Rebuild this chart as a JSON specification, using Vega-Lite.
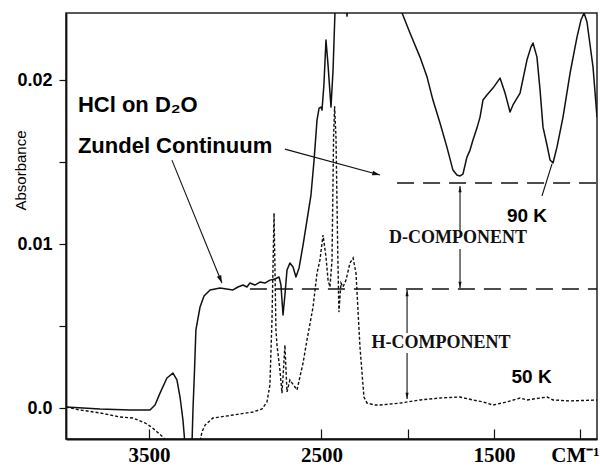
{
  "$schema": "https://vega.github.io/schema/vega-lite/v6.json",
  "width": 531,
  "height": 426,
  "autosize": {"type": "none"},
  "padding": {"left": 66, "top": 13, "right": 3, "bottom": 28},
  "background": "white",
  "config": {
    "view": {"stroke": "#222", "strokeWidth": 1.5},
    "axis": {"grid": false, "domainColor": "#111", "domainWidth": 1.8, "tickColor": "#111", "tickWidth": 1.2, "labelColor": "#000", "titleColor": "#000"}
  },
  "datasets": {
    "spectra": [
      {"s": "90 K", "wn": 3981, "abs": 0.00006}, {"s": "90 K", "wn": 3784, "abs": -0.00006}, {"s": "90 K", "wn": 3610, "abs": -0.00012}, {"s": "90 K", "wn": 3494, "abs": -0.00012},
      {"s": "90 K", "wn": 3465, "abs": 0.00018}, {"s": "90 K", "wn": 3436, "abs": 0.00091}, {"s": "90 K", "wn": 3396, "abs": 0.00183}, {"s": "90 K", "wn": 3361, "abs": 0.00213},
      {"s": "90 K", "wn": 3338, "abs": 0.00171}, {"s": "90 K", "wn": 3320, "abs": 0.00067}, {"s": "90 K", "wn": 3303, "abs": -0.00073}, {"s": "90 K", "wn": 3291, "abs": -0.00226},
      {"s": "90 K", "wn": 3286, "abs": -0.0038}, {"s": "90 K", "wn": 3257, "abs": -0.0038}, {"s": "90 K", "wn": 3251, "abs": -0.00226}, {"s": "90 K", "wn": 3245, "abs": -0.00012},
      {"s": "90 K", "wn": 3236, "abs": 0.00232}, {"s": "90 K", "wn": 3228, "abs": 0.00476}, {"s": "90 K", "wn": 3204, "abs": 0.00616}, {"s": "90 K", "wn": 3181, "abs": 0.00683},
      {"s": "90 K", "wn": 3146, "abs": 0.0072}, {"s": "90 K", "wn": 3088, "abs": 0.00732}, {"s": "90 K", "wn": 3013, "abs": 0.0072}, {"s": "90 K", "wn": 2984, "abs": 0.00738},
      {"s": "90 K", "wn": 2955, "abs": 0.0075}, {"s": "90 K", "wn": 2932, "abs": 0.00738}, {"s": "90 K", "wn": 2915, "abs": 0.00762}, {"s": "90 K", "wn": 2886, "abs": 0.0075},
      {"s": "90 K", "wn": 2857, "abs": 0.00768}, {"s": "90 K", "wn": 2828, "abs": 0.00762}, {"s": "90 K", "wn": 2799, "abs": 0.0078}, {"s": "90 K", "wn": 2770, "abs": 0.00787},
      {"s": "90 K", "wn": 2746, "abs": 0.00799}, {"s": "90 K", "wn": 2735, "abs": 0.0075}, {"s": "90 K", "wn": 2723, "abs": 0.00567}, {"s": "90 K", "wn": 2712, "abs": 0.00689},
      {"s": "90 K", "wn": 2700, "abs": 0.00841}, {"s": "90 K", "wn": 2683, "abs": 0.00884}, {"s": "90 K", "wn": 2665, "abs": 0.0086}, {"s": "90 K", "wn": 2648, "abs": 0.00799},
      {"s": "90 K", "wn": 2630, "abs": 0.00854}, {"s": "90 K", "wn": 2607, "abs": 0.00994}, {"s": "90 K", "wn": 2584, "abs": 0.01146}, {"s": "90 K", "wn": 2561, "abs": 0.01299},
      {"s": "90 K", "wn": 2543, "abs": 0.01512}, {"s": "90 K", "wn": 2526, "abs": 0.01756}, {"s": "90 K", "wn": 2514, "abs": 0.01829}, {"s": "90 K", "wn": 2503, "abs": 0.01835},
      {"s": "90 K", "wn": 2497, "abs": 0.01817}, {"s": "90 K", "wn": 2486, "abs": 0.0197}, {"s": "90 K", "wn": 2474, "abs": 0.02244}, {"s": "90 K", "wn": 2462, "abs": 0.02091},
      {"s": "90 K", "wn": 2445, "abs": 0.01835}, {"s": "90 K", "wn": 2433, "abs": 0.02061}, {"s": "90 K", "wn": 2422, "abs": 0.02409}, {"s": "90 K", "wn": 2410, "abs": 0.0267},
      {"s": "90 K", "wn": 2364, "abs": 0.02549}, {"s": "90 K", "wn": 2352, "abs": 0.0239}, {"s": "90 K", "wn": 2341, "abs": 0.02549}, {"s": "90 K", "wn": 2219, "abs": 0.02854},
      {"s": "90 K", "wn": 2074, "abs": 0.02579}, {"s": "90 K", "wn": 2033, "abs": 0.02409}, {"s": "90 K", "wn": 1987, "abs": 0.02287}, {"s": "90 K", "wn": 1929, "abs": 0.0214},
      {"s": "90 K", "wn": 1888, "abs": 0.02018}, {"s": "90 K", "wn": 1854, "abs": 0.01878}, {"s": "90 K", "wn": 1813, "abs": 0.01738}, {"s": "90 K", "wn": 1773, "abs": 0.01591},
      {"s": "90 K", "wn": 1738, "abs": 0.01451}, {"s": "90 K", "wn": 1715, "abs": 0.01421}, {"s": "90 K", "wn": 1697, "abs": 0.01415}, {"s": "90 K", "wn": 1680, "abs": 0.01427},
      {"s": "90 K", "wn": 1657, "abs": 0.0153}, {"s": "90 K", "wn": 1639, "abs": 0.01573}, {"s": "90 K", "wn": 1622, "abs": 0.01634}, {"s": "90 K", "wn": 1599, "abs": 0.01707},
      {"s": "90 K", "wn": 1581, "abs": 0.01774}, {"s": "90 K", "wn": 1564, "abs": 0.01878}, {"s": "90 K", "wn": 1541, "abs": 0.01909}, {"s": "90 K", "wn": 1506, "abs": 0.01951},
      {"s": "90 K", "wn": 1465, "abs": 0.02012}, {"s": "90 K", "wn": 1436, "abs": 0.01921}, {"s": "90 K", "wn": 1407, "abs": 0.01805}, {"s": "90 K", "wn": 1390, "abs": 0.01848},
      {"s": "90 K", "wn": 1349, "abs": 0.01921}, {"s": "90 K", "wn": 1309, "abs": 0.02122}, {"s": "90 K", "wn": 1286, "abs": 0.02201}, {"s": "90 K", "wn": 1274, "abs": 0.02226},
      {"s": "90 K", "wn": 1251, "abs": 0.0214}, {"s": "90 K", "wn": 1233, "abs": 0.01939}, {"s": "90 K", "wn": 1216, "abs": 0.01713}, {"s": "90 K", "wn": 1193, "abs": 0.01604},
      {"s": "90 K", "wn": 1175, "abs": 0.01512}, {"s": "90 K", "wn": 1158, "abs": 0.01494}, {"s": "90 K", "wn": 1135, "abs": 0.01591}, {"s": "90 K", "wn": 1100, "abs": 0.01774},
      {"s": "90 K", "wn": 1059, "abs": 0.02043}, {"s": "90 K", "wn": 1019, "abs": 0.02262}, {"s": "90 K", "wn": 996, "abs": 0.02366}, {"s": "90 K", "wn": 978, "abs": 0.02409},
      {"s": "90 K", "wn": 961, "abs": 0.02354}, {"s": "90 K", "wn": 926, "abs": 0.02079}, {"s": "90 K", "wn": 903, "abs": 0.01774},

      {"s": "50 K", "wn": 3981, "abs": 0.00006}, {"s": "50 K", "wn": 3900, "abs": -0.00012}, {"s": "50 K", "wn": 3784, "abs": -0.0003}, {"s": "50 K", "wn": 3668, "abs": -0.00055},
      {"s": "50 K", "wn": 3593, "abs": -0.00061}, {"s": "50 K", "wn": 3523, "abs": -0.00091}, {"s": "50 K", "wn": 3494, "abs": -0.0011}, {"s": "50 K", "wn": 3465, "abs": -0.00134},
      {"s": "50 K", "wn": 3419, "abs": -0.00177}, {"s": "50 K", "wn": 3378, "abs": -0.00238}, {"s": "50 K", "wn": 3349, "abs": -0.0038}, {"s": "50 K", "wn": 3233, "abs": -0.0038},
      {"s": "50 K", "wn": 3210, "abs": -0.00238}, {"s": "50 K", "wn": 3193, "abs": -0.00146}, {"s": "50 K", "wn": 3175, "abs": -0.00104}, {"s": "50 K", "wn": 3129, "abs": -0.00061},
      {"s": "50 K", "wn": 3013, "abs": -0.00043}, {"s": "50 K", "wn": 2897, "abs": -0.00024}, {"s": "50 K", "wn": 2845, "abs": -0.00006}, {"s": "50 K", "wn": 2816, "abs": 0.00037},
      {"s": "50 K", "wn": 2799, "abs": 0.0014}, {"s": "50 K", "wn": 2787, "abs": 0.00537}, {"s": "50 K", "wn": 2775, "abs": 0.01189}, {"s": "50 K", "wn": 2764, "abs": 0.00476},
      {"s": "50 K", "wn": 2758, "abs": 0.00384}, {"s": "50 K", "wn": 2741, "abs": 0.00232}, {"s": "50 K", "wn": 2729, "abs": 0.00091}, {"s": "50 K", "wn": 2717, "abs": 0.00293},
      {"s": "50 K", "wn": 2712, "abs": 0.00384}, {"s": "50 K", "wn": 2700, "abs": 0.00098}, {"s": "50 K", "wn": 2683, "abs": 0.00171}, {"s": "50 K", "wn": 2642, "abs": 0.0011},
      {"s": "50 K", "wn": 2607, "abs": 0.00274}, {"s": "50 K", "wn": 2584, "abs": 0.00415}, {"s": "50 K", "wn": 2549, "abs": 0.00616}, {"s": "50 K", "wn": 2526, "abs": 0.00823},
      {"s": "50 K", "wn": 2509, "abs": 0.00902}, {"s": "50 K", "wn": 2491, "abs": 0.01055}, {"s": "50 K", "wn": 2474, "abs": 0.00921}, {"s": "50 K", "wn": 2462, "abs": 0.0078},
      {"s": "50 K", "wn": 2451, "abs": 0.00738}, {"s": "50 K", "wn": 2439, "abs": 0.00902}, {"s": "50 K", "wn": 2430, "abs": 0.0165}, {"s": "50 K", "wn": 2424, "abs": 0.0184},
      {"s": "50 K", "wn": 2416, "abs": 0.0165}, {"s": "50 K", "wn": 2406, "abs": 0.00963}, {"s": "50 K", "wn": 2399, "abs": 0.00585}, {"s": "50 K", "wn": 2387, "abs": 0.00762},
      {"s": "50 K", "wn": 2375, "abs": 0.00738}, {"s": "50 K", "wn": 2358, "abs": 0.0078}, {"s": "50 K", "wn": 2335, "abs": 0.00884}, {"s": "50 K", "wn": 2317, "abs": 0.00915},
      {"s": "50 K", "wn": 2300, "abs": 0.00823}, {"s": "50 K", "wn": 2277, "abs": 0.00372}, {"s": "50 K", "wn": 2254, "abs": 0.00067}, {"s": "50 K", "wn": 2236, "abs": 0.0003},
      {"s": "50 K", "wn": 2190, "abs": 0.00018}, {"s": "50 K", "wn": 2161, "abs": 0.00018}, {"s": "50 K", "wn": 2045, "abs": 0.0003}, {"s": "50 K", "wn": 1929, "abs": 0.00049},
      {"s": "50 K", "wn": 1813, "abs": 0.00061}, {"s": "50 K", "wn": 1697, "abs": 0.00067}, {"s": "50 K", "wn": 1622, "abs": 0.00049}, {"s": "50 K", "wn": 1564, "abs": 0.00037},
      {"s": "50 K", "wn": 1506, "abs": 0.00018}, {"s": "50 K", "wn": 1425, "abs": 0.00037}, {"s": "50 K", "wn": 1349, "abs": 0.00061}, {"s": "50 K", "wn": 1309, "abs": 0.00049},
      {"s": "50 K", "wn": 1193, "abs": 0.00067}, {"s": "50 K", "wn": 1158, "abs": 0.00049}, {"s": "50 K", "wn": 1059, "abs": 0.00043}, {"s": "50 K", "wn": 903, "abs": 0.00049}
    ],
    "levels": [
      {"component": "D", "wn": 2062, "wn2": 903, "abs": 0.01372},
      {"component": "H", "wn": 2915, "wn2": 903, "abs": 0.00726}
    ],
    "pointers": [
      {"id": "zundel", "wn": 3367, "abs": 0.01512, "wn2": 3077, "abs2": 0.00762},
      {"id": "cont", "wn": 2712, "abs": 0.01579, "wn2": 2161, "abs2": 0.01421},
      {"id": "d1", "wn": 1697, "abs": 0.01354, "wn2": 1697, "abs2": 0.01073},
      {"id": "d2", "wn": 1697, "abs": 0.0097, "wn2": 1697, "abs2": 0.00732},
      {"id": "h1", "wn": 2004, "abs": 0.0072, "wn2": 2004, "abs2": 0.00457},
      {"id": "h2", "wn": 2004, "abs": 0.00335, "wn2": 2004, "abs2": 0.00055},
      {"id": "90K", "wn": 1164, "abs": 0.01488, "wn2": 1222, "abs2": 0.01293}
    ],
    "heads": [
      {"id": "zundel", "wn": 3077, "abs": 0.00762},
      {"id": "cont", "wn": 2161, "abs": 0.01421},
      {"id": "up", "wn": 1697, "abs": 0.01354},
      {"id": "down", "wn": 1697, "abs": 0.00732},
      {"id": "up", "wn": 2004, "abs": 0.0072},
      {"id": "down", "wn": 2004, "abs": 0.00055}
    ],
    "notes": [
      {"kind": "left", "label": "HCl on D₂O", "wn": 3912, "abs": 0.01805},
      {"kind": "left", "label": "Zundel Continuum", "wn": 3912, "abs": 0.01555},
      {"kind": "temp", "label": "90 K", "wn": 1309, "abs": 0.01134},
      {"kind": "temp", "label": "50 K", "wn": 1282, "abs": 0.00152},
      {"kind": "comp", "label": "D-COMPONENT", "wn": 1709, "abs": 0.01006},
      {"kind": "comp", "label": "H-COMPONENT", "wn": 1807, "abs": 0.00366}
    ]
  },
  "encoding": {
    "x": {
      "field": "wn", "type": "quantitative",
      "scale": {"domain": [903, 3981], "reverse": true, "nice": false, "zero": false},
      "axis": {
        "title": "CM⁻¹", "values": [3500, 2500, 2000, 1500, 1000], "format": "d",
        "labelExpr": "indexof([3500, 2500, 1500], datum.value) >= 0 ? datum.label : ''",
        "tickSize": -10, "labelPadding": 32, "labelBaseline": "alphabetic", "labelFlush": false,
        "labelFont": "Liberation Serif", "labelFontWeight": "bold", "labelFontSize": 21,
        "titleFont": "Liberation Serif", "titleFontWeight": "bold", "titleFontSize": 21,
        "titleX": 509, "titleY": 22, "titleBaseline": "alphabetic", "titleAlign": "center"
      }
    },
    "y": {
      "field": "abs", "type": "quantitative",
      "scale": {"domain": [-0.00189, 0.02409], "nice": false, "zero": false},
      "axis": {
        "title": "Absorbance", "values": [0, 0.005, 0.01, 0.015, 0.02],
        "labelExpr": "datum.value == 0 ? '0.0' : (abs(datum.value - 0.01) < 1e-9 ? '0.01' : (abs(datum.value - 0.02) < 1e-9 ? '0.02' : ''))",
        "tickSize": 7, "labelPadding": 7,
        "labelFont": "Liberation Sans", "labelFontWeight": "bold", "labelFontSize": 18,
        "titleFont": "Liberation Sans", "titleFontWeight": "normal", "titleFontSize": 15,
        "titleX": -46, "titleY": 157, "titleAlign": "center", "titleBaseline": "middle"
      }
    }
  },
  "layer": [
    {
      "data": {"name": "spectra"},
      "transform": [{"filter": "datum.s == '90 K'"}],
      "mark": {"type": "line", "clip": true, "color": "#111", "strokeWidth": 1.5, "strokeJoin": "round"}
    },
    {
      "data": {"name": "spectra"},
      "transform": [{"filter": "datum.s == '50 K'"}],
      "mark": {"type": "line", "clip": true, "color": "#111", "strokeWidth": 1.4, "strokeDash": [3, 2]}
    },
    {
      "data": {"name": "levels"},
      "mark": {"type": "rule", "color": "#111", "strokeWidth": 1.6, "strokeDash": [17, 9]},
      "encoding": {"x2": {"field": "wn2"}}
    },
    {
      "data": {"name": "pointers"},
      "mark": {"type": "rule", "color": "#111", "strokeWidth": 1.1},
      "encoding": {"x2": {"field": "wn2"}, "y2": {"field": "abs2"}}
    },
    {
      "data": {"name": "heads"},
      "transform": [{"filter": "datum.id == 'zundel'"}],
      "mark": {"type": "point", "shape": "M0,0L0.6,2L-0.6,2Z", "size": 60, "filled": true, "color": "#111", "opacity": 1, "angle": 158}
    },
    {
      "data": {"name": "heads"},
      "transform": [{"filter": "datum.id == 'cont'"}],
      "mark": {"type": "point", "shape": "M0,0L0.6,2L-0.6,2Z", "size": 60, "filled": true, "color": "#111", "opacity": 1, "angle": 105}
    },
    {
      "data": {"name": "heads"},
      "transform": [{"filter": "datum.id == 'up'"}],
      "mark": {"type": "point", "shape": "M0,0L0.5,2L-0.5,2Z", "size": 40, "filled": true, "color": "#111", "opacity": 1, "angle": 0}
    },
    {
      "data": {"name": "heads"},
      "transform": [{"filter": "datum.id == 'down'"}],
      "mark": {"type": "point", "shape": "M0,0L0.5,2L-0.5,2Z", "size": 40, "filled": true, "color": "#111", "opacity": 1, "angle": 180}
    },
    {
      "data": {"name": "notes"},
      "transform": [{"filter": "datum.kind == 'left'"}],
      "mark": {"type": "text", "align": "left", "baseline": "alphabetic", "font": "Liberation Sans", "fontWeight": "bold", "fontSize": 22, "color": "#000"},
      "encoding": {"text": {"field": "label"}}
    },
    {
      "data": {"name": "notes"},
      "transform": [{"filter": "datum.kind == 'temp'"}],
      "mark": {"type": "text", "align": "center", "baseline": "alphabetic", "font": "Liberation Sans", "fontWeight": "bold", "fontSize": 19, "color": "#000"},
      "encoding": {"text": {"field": "label"}}
    },
    {
      "data": {"name": "notes"},
      "transform": [{"filter": "datum.kind == 'comp'"}],
      "mark": {"type": "text", "align": "center", "baseline": "alphabetic", "font": "Liberation Serif", "fontWeight": "bold", "fontSize": 18, "color": "#111"},
      "encoding": {"text": {"field": "label"}}
    }
  ]
}
